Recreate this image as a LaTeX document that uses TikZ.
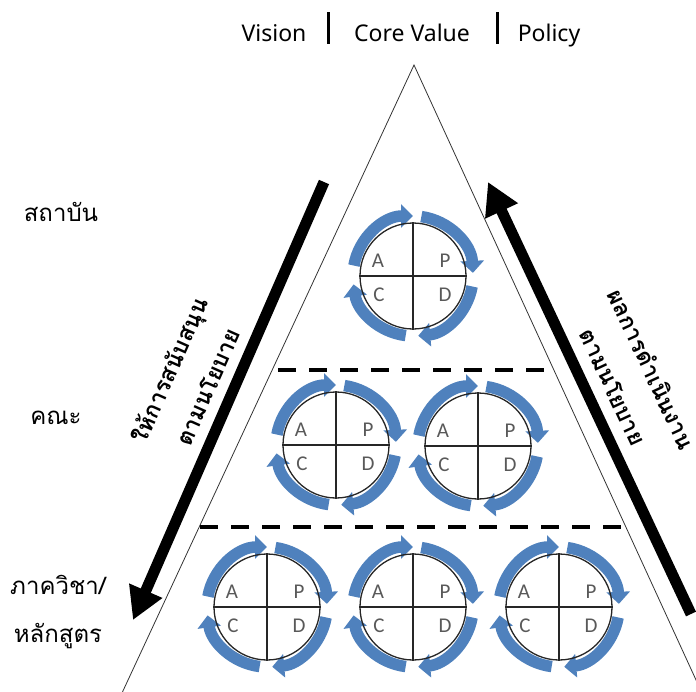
\documentclass[tikz,border=0pt]{standalone}
\usepackage{fontspec}
\setmainfont{Noto Sans}
\newfontfamily\thaifont[Script=Thai]{Loma}
\newfontfamily\pdcafont{Carlito}
\usetikzlibrary{arrows.meta}
\definecolor{pdcablue}{RGB}{79,129,189}
\definecolor{lettergray}{RGB}{89,89,89}
\tikzset{
  pdcaring/.style={draw=black!85, line width=1.3pt, circle, minimum size=106pt, inner sep=0pt},
  pdcacross/.style={draw=black!85, line width=1.3pt},
  pdcaletter/.style={font=\pdcafont\fontsize{21}{21}\selectfont, text=lettergray, inner sep=0pt},
  cyclearrow/.style={draw=pdcablue, line width=11.5pt, -{Triangle[width=23pt,length=12pt]}},
  bigarrow/.style={draw=black, line width=11pt, -{Triangle[width=34pt,length=32pt]}},
  sectionline/.style={draw=black, line width=4pt, dash pattern=on 18pt off 13pt},
  pyramidside/.style={draw=black!80, line width=0.8pt},
  thailabel/.style={font=\thaifont\fontsize{24}{40}\selectfont, align=center, inner sep=0pt},
  slantlabel/.style={font=\thaifont\bfseries\fontsize{23}{42}\selectfont, align=center, inner sep=0pt},
  headlabel/.style={font=\fontsize{23}{23}\selectfont, inner sep=0pt, anchor=base},
  headbar/.style={draw=black, line width=3pt},
}
\newcommand\pdcacycle[3]{%
  \coordinate (#1-c) at (#2,#3);
  \foreach \s/\e in {170/90, 82/3, -10/-85, -97/-172} {
    \draw[cyclearrow] ([shift={(-\s:60)}]#1-c) arc[start angle=-\s, end angle=-\e, radius=60];
  }
  \node[pdcaring] (#1) at (#1-c) {};
  \draw[pdcacross] (#1.north) -- (#1.south);
  \draw[pdcacross] (#1.west) -- (#1.east);
  \node[pdcaletter] (#1-A) at ([shift={(-35,-15)}]#1-c) {A};
  \node[pdcaletter] (#1-P) at ([shift={(32,-15)}]#1-c) {P};
  \node[pdcaletter] (#1-C) at ([shift={(-34,19)}]#1-c) {C};
  \node[pdcaletter] (#1-D) at ([shift={(32,19)}]#1-c) {D};
}
\begin{document}
\begin{tikzpicture}[x=1pt,y=-1pt]
\useasboundingbox (0,0) rectangle (696,691);
\clip (0,0) rectangle (696,691);
% pyramid
\coordinate (apex) at (414,65);
\coordinate (baseL) at (122,693);
\coordinate (baseR) at (702,693);
\draw[pyramidside] (baseL) -- (apex) -- (baseR);
% section lines
\coordinate (s1a) at (278,370); \coordinate (s1b) at (547,370);
\coordinate (s2a) at (200,527); \coordinate (s2b) at (622,527);
\draw[sectionline] (s1a) -- (s1b);
\draw[sectionline] (s2a) -- (s2b);
% header
\node[headlabel] (vision) at (274,41) {Vision};
\node[headlabel] (core) at (412,41) {Core Value};
\node[headlabel] (policy) at (549,41) {Policy};
\coordinate (bar1t) at (328,12); \coordinate (bar1b) at (328,44);
\coordinate (bar2t) at (497,12); \coordinate (bar2b) at (497,44);
\draw[headbar] (bar1t) -- (bar1b);
\draw[headbar] (bar2t) -- (bar2b);
% PDCA cycles
\pdcacycle{inst}{413}{276}
\pdcacycle{facA}{336}{445}
\pdcacycle{facB}{478}{446}
\pdcacycle{depA}{267}{607}
\pdcacycle{depB}{413}{607}
\pdcacycle{depC}{559}{607}
% big arrows
\coordinate (down-s) at (324,182);
\coordinate (down-e) at (133,620);
\coordinate (up-s) at (691,614);
\coordinate (up-e) at (488,182);
\draw[bigarrow] (down-s) -- (down-e);
\draw[bigarrow] (up-s) -- (up-e);
% level labels
\node[thailabel] (lvl1) at (61,212) {สถาบัน};
\node[thailabel] (lvl2) at (56,418) {คณะ};
\node[thailabel] (lvl3a) at (58,585) {ภาควิชา/};
\node[thailabel] (lvl3b) at (58,636) {หลักสูตร};
% rotated labels
\node[slantlabel, rotate=66] (support) at (188,378) {ให้การสนับสนุน\\ตามนโยบาย};
\node[slantlabel, rotate=-65] (result) at (633,378) {ผลการดำเนินงาน\\ตามนโยบาย};
\end{tikzpicture}
\end{document}
